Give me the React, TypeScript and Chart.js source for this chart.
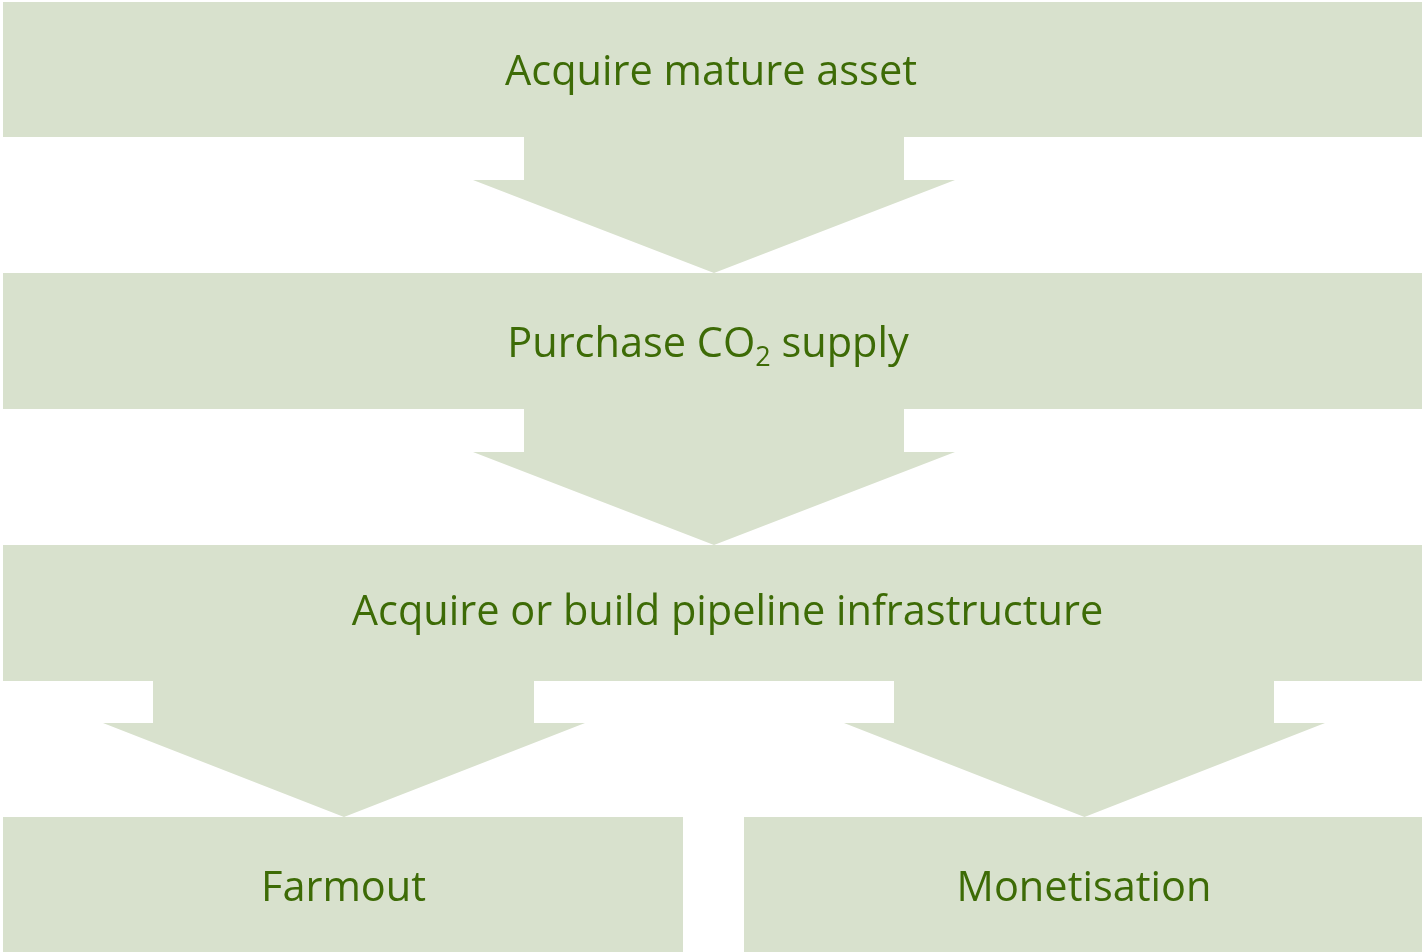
import React, { useEffect, useRef } from 'react';
import { Chart, registerables } from 'chart.js';

Chart.register(...registerables);

// ---- Data ----
const FILL = '#D8E1CD';
const TEXT = '#3D6B06';
const FONT_FAMILY = '"Open Sans", "Noto Sans", sans-serif';

// boxes (flow steps)
const boxLeft = [3, 3, 3, 3, 744];
const boxRight = [1422, 1422, 1422, 683, 1422];
const boxTop = [2, 273, 545, 817, 817];
const boxBottom = [137, 409, 681, 952, 952];
// label segments: [text, isSubscript]
const boxLabels: [string, boolean][][] = [
  [['Acquire mature asset', false]],
  [['Purchase CO', false], ['2', true], [' supply', false]],
  [['Acquire or build pipeline infrastructure', false]],
  [['Farmout', false]],
  [['Monetisation', false]],
];
// label anchors (centre of the capital letters)
const labelX = [711, 708, 727.5, 343.5, 1084];
const labelY = [70, 342, 610, 886, 886];

// arrows between steps
const arrowStemLeft = [524, 524, 153, 894];
const arrowStemRight = [904, 904, 534, 1274];
const arrowHeadLeft = [473, 473, 103, 844];
const arrowHeadRight = [955, 955, 585, 1325];
const arrowTipX = [714, 714, 344, 1084.5];
const arrowTop = [137, 409, 681, 681];
const arrowShoulder = [180, 452, 723, 723];
const arrowTipY = [273, 545, 817, 817];

const X_MAX = 1422;
const Y_MAX = 952;

function boxPoints(i: number) {
  return [
    { x: boxLeft[i], y: boxTop[i] },
    { x: boxRight[i], y: boxTop[i] },
    { x: boxRight[i], y: boxBottom[i] },
    { x: boxLeft[i], y: boxBottom[i] },
    { x: boxLeft[i], y: boxTop[i] },
  ];
}

function arrowPoints(i: number) {
  return [
    { x: arrowStemLeft[i], y: arrowTop[i] },
    { x: arrowStemRight[i], y: arrowTop[i] },
    { x: arrowStemRight[i], y: arrowShoulder[i] },
    { x: arrowHeadRight[i], y: arrowShoulder[i] },
    { x: arrowTipX[i], y: arrowTipY[i] },
    { x: arrowHeadLeft[i], y: arrowShoulder[i] },
    { x: arrowStemLeft[i], y: arrowShoulder[i] },
    { x: arrowStemLeft[i], y: arrowTop[i] },
  ];
}

const FONT_SIZE = 41.5;
const SUB_SIZE = 27;
const SUB_OFFSET = 9;

const labelPlugin = {
  id: 'flowLabels',
  afterDatasetsDraw(chart: any) {
    const { ctx, scales } = chart;
    const xs = scales.x;
    const ys = scales.y;
    ctx.save();
    ctx.fillStyle = TEXT;
    ctx.textBaseline = 'alphabetic';
    ctx.textAlign = 'left';
    const mainFont = `${FONT_SIZE}px ${FONT_FAMILY}`;
    const subFont = `${SUB_SIZE}px ${FONT_FAMILY}`;
    ctx.font = mainFont;
    const capH = ctx.measureText('H').actualBoundingBoxAscent;
    boxLabels.forEach((segs, i) => {
      const cx = xs.getPixelForValue(labelX[i]);
      const cy = ys.getPixelForValue(labelY[i]);
      let total = 0;
      const widths = segs.map(([t, sub]) => {
        ctx.font = sub ? subFont : mainFont;
        const w = ctx.measureText(t).width;
        total += w;
        return w;
      });
      let x = cx - total / 2;
      const baseline = cy + capH / 2;
      segs.forEach(([t, sub], k) => {
        ctx.font = sub ? subFont : mainFont;
        ctx.fillText(t, x, sub ? baseline + SUB_OFFSET : baseline);
        x += widths[k];
      });
    });
    ctx.restore();
  },
};

export default function App() {
  const ref = useRef<HTMLCanvasElement | null>(null);

  useEffect(() => {
    document.body.style.margin = '0';
    const canvas = ref.current;
    if (!canvas) return;

    const mk = (data: { x: number; y: number }[]) => ({
      data,
      showLine: true,
      fill: 'shape',
      backgroundColor: FILL,
      borderColor: 'rgba(0,0,0,0)',
      borderWidth: 0,
      pointRadius: 0,
      pointHoverRadius: 0,
      tension: 0,
    });

    const datasets: any[] = [];
    boxLeft.forEach((_, i) => datasets.push(mk(boxPoints(i))));
    arrowStemLeft.forEach((_, i) => datasets.push(mk(arrowPoints(i))));

    const chart = new Chart(canvas, {
      type: 'scatter',
      data: { datasets },
      options: {
        animation: false,
        responsive: false,
        maintainAspectRatio: false,
        devicePixelRatio: 1,
        events: [],
        layout: { padding: 0 },
        plugins: {
          legend: { display: false },
          tooltip: { enabled: false },
          title: { display: false },
        },
        scales: {
          x: { type: 'linear', min: 0, max: X_MAX, display: false },
          y: { type: 'linear', min: 0, max: Y_MAX, reverse: true, display: false },
        },
      } as any,
      plugins: [labelPlugin],
    });

    let alive = true;
    if ((document as any).fonts && (document as any).fonts.load) {
      (document as any).fonts
        .load(`${FONT_SIZE}px "Open Sans"`)
        .then(() => {
          if (alive) chart.draw();
        })
        .catch(() => {});
    }

    return () => {
      alive = false;
      chart.destroy();
    };
  }, []);

  return (
    <div style={{ width: X_MAX, height: Y_MAX, background: '#ffffff' }}>
      <canvas ref={ref} width={X_MAX} height={Y_MAX} style={{ display: 'block' }} />
    </div>
  );
}
